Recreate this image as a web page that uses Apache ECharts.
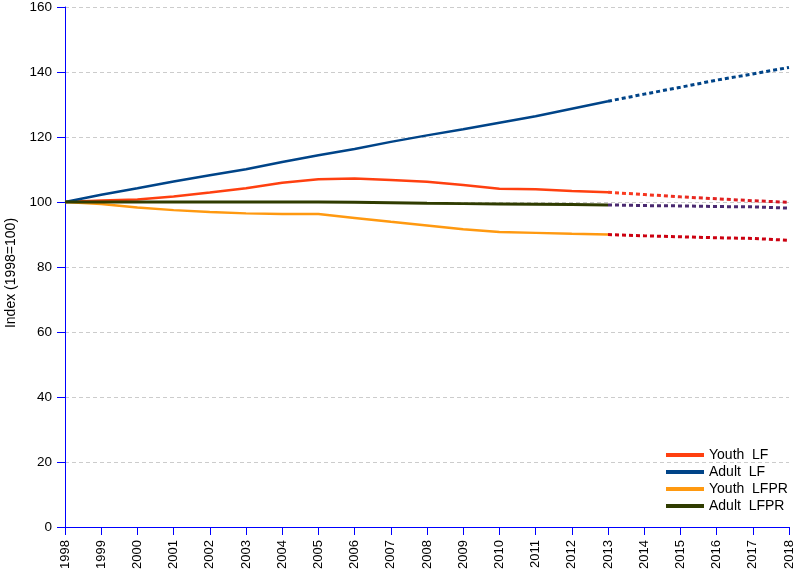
<!DOCTYPE html>
<html><head><meta charset="utf-8">
<script src="https://cdn.jsdelivr.net/npm/echarts@6/dist/echarts.min.js"></script>
<style>html,body{margin:0;padding:0;background:#fff}#c{width:800px;height:574px}</style>
</head><body><div id="c"></div>
<script>
const years = ['1998','1999','2000','2001','2002','2003','2004','2005','2006','2007','2008','2009','2010','2011','2012','2013','2014','2015','2016','2017','2018'];
const yTicks = [0,20,40,60,80,100,120,140,160];
const lastActual = '2013';
const youthLF   = [100,100.5,100.8,101.7,102.9,104.2,105.9,107.0,107.2,106.8,106.2,105.2,104.1,103.9,103.4,103.0,102.3,101.6,101.0,100.4,99.9];
const adultLF   = [100,102.2,104.2,106.3,108.2,110.1,112.3,114.4,116.3,118.5,120.5,122.4,124.4,126.4,128.7,131.0,133.2,135.3,137.5,139.4,141.4];
const youthLFPR = [100,99.4,98.3,97.5,96.9,96.5,96.3,96.3,95.1,93.9,92.8,91.6,90.8,90.5,90.2,90.0,89.6,89.3,89.0,88.8,88.2];
const adultLFPR = [100,100,100,100,100,100,100,100,99.9,99.8,99.6,99.5,99.4,99.3,99.2,99.1,98.9,98.8,98.6,98.5,98.1];

const cut = years.indexOf(lastActual);
const solid = a => a.map((v,i)=> i<=cut ? v : null);
const proj  = a => a.map((v,i)=> i>=cut ? v : null);
const grad = (c1,c2) => new echarts.graphic.LinearGradient(0,0,1,0,[{offset:0,color:c1},{offset:1,color:c2}]);

const FONT = 'Liberation Sans';
const chart = echarts.init(document.getElementById('c'), null, {renderer:'canvas'});
const mkSolid = (name, data, color, w) => ({name, type:'line', data:solid(data), symbol:'none', lineStyle:{color, width:w}, itemStyle:{color}, z: 3, animation:false});
const mkProj = (data, color, w) => ({name:'proj', type:'line', data:proj(data), symbol:'none', lineStyle:{color, width:w, type:[4,3]}, z: 2, animation:false});

chart.setOption({
  animation:false,
  grid:{left:65, right:11, top:7, bottom:47, containLabel:false, outerBoundsMode:'none'},
  legend:{
    data:['Youth  LF','Adult  LF','Youth  LFPR','Adult  LFPR'],
    orient:'vertical', left:661, top:443, itemWidth:38, itemHeight:4, itemGap:3,
    icon:'rect',
    textStyle:{fontFamily:FONT, fontSize:14, color:'#000'}
  },
  xAxis:{
    type:'category', data:years, boundaryGap:false,
    axisLine:{lineStyle:{color:'#0000ff', width:1}},
    axisTick:{show:true, length:8, lineStyle:{color:'#0000ff'}, alignWithLabel:true},
    axisLabel:{rotate:90, margin:13, fontFamily:FONT, fontSize:13, color:'#000', interval:0},
    splitLine:{show:false}
  },
  yAxis:{
    type:'value', min:yTicks[0], max:yTicks[yTicks.length-1], interval:20,
    name:'Index (1998=100)', nameLocation:'middle', nameGap:46, nameRotate:90,
    nameTextStyle:{fontFamily:FONT, fontSize:14, color:'#000', padding:[0,12,0,0]},
    axisLine:{show:true, lineStyle:{color:'#0000ff', width:1}},
    axisTick:{show:true, length:8, lineStyle:{color:'#0000ff'}},
    axisLabel:{margin:13, fontFamily:FONT, fontSize:13.5, color:'#000'},
    splitLine:{show:true, lineStyle:{color:'#cccccc', type:[4,3]}}
  },
  series:[
    mkProj(adultLF, '#004488', 3),
    mkProj(youthLF, grad('#ff4020','#d01020'), 3),
    mkProj(adultLFPR, '#4a2a70', 3),
    mkProj(youthLFPR, '#cc0010', 3),
    mkSolid('Youth  LF', youthLF, '#ff4010', 2.5),
    mkSolid('Adult  LF', adultLF, '#004488', 2.5),
    mkSolid('Youth  LFPR', youthLFPR, '#ff9910', 2.5),
    mkSolid('Adult  LFPR', adultLFPR, '#2f3c00', 3)
  ]
});
</script></body></html>
